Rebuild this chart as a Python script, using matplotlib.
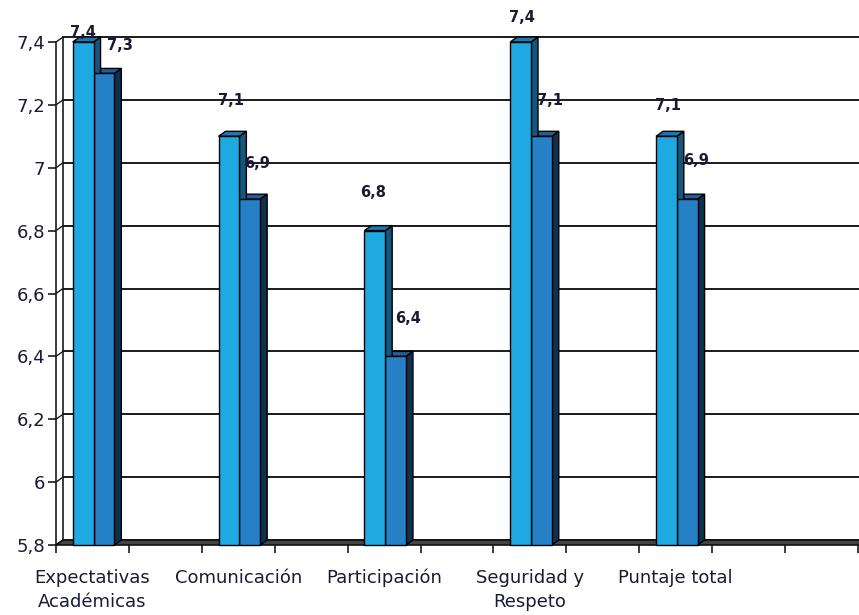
import numpy as np
import matplotlib
matplotlib.use('Agg')
import matplotlib.pyplot as plt
from matplotlib.patches import Polygon

# data
categories = ['Expectativas\nAcadémicas', 'Comunicación', 'Participación', 'Seguridad y\nRespeto', 'Puntaje total']
slots = [0, 2, 4, 6, 8]          # category slot on the 11-slot axis
serie_1 = [7.4, 7.1, 6.8, 7.4, 7.1]
serie_2 = [7.3, 6.9, 6.4, 7.1, 6.9]
y_ticks = [5.8, 6.0, 6.2, 6.4, 6.6, 6.8, 7.0, 7.2, 7.4]
y_tick_labels = ['5,8', '6', '6,2', '6,4', '6,6', '6,8', '7', '7,2', '7,4']

# label offsets in pixels (dx, dy) relative to the bar front top centre
offsets_1 = [(0, 10), (2, 36), (-2, 38), (1, 25), (2, 31)]
offsets_2 = [(16, 28), (7, 36), (12, 38), (9, 36), (9, 39)]

W, H, DPI = 859, 615, 100
N_SLOTS = 11
YMIN, YMAX = 5.8, 7.4
DEPTH_X, DEPTH_Y = 7, 5  # pixel depth of the 3d effect

FRONT_1, TOP_1, SIDE_1 = '#1ea9e0', '#1b78b0', '#17557f'
FRONT_2, TOP_2, SIDE_2 = '#2580c6', '#1d5f96', '#0e324e'
TEXT = '#1a1a33'

fig = plt.figure(figsize=(W / DPI, H / DPI), dpi=DPI)
left, right, bottom, top = 56, 858, 545, 42
ax = fig.add_axes([left / W, (H - bottom) / H, (right - left) / W, (bottom - top) / H])
ax.set_xlim(0, N_SLOTS)
ax.set_ylim(YMIN, YMAX)
for s in ax.spines.values():
  s.set_visible(False)

px_x = (right - left) / N_SLOTS
px_y = (bottom - top) / (YMAX - YMIN)
dx = DEPTH_X / px_x
dy = DEPTH_Y / px_y

# back wall gridlines and left wall
for y in y_ticks:
  ax.plot([0 + dx, N_SLOTS + dx], [y + dy, y + dy], color='#1a1a1a', lw=1.4, clip_on=False, zorder=1)
  ax.plot([0, dx], [y, y + dy], color='#1a1a1a', lw=1.0, clip_on=False, zorder=1)
ax.plot([0, 0], [YMIN, YMAX], color='#1a1a1a', lw=1.2, clip_on=False, zorder=1)
ax.plot([dx, dx], [YMIN + dy, YMAX + dy], color='#1a1a1a', lw=1.2, clip_on=False, zorder=1)

# floor
floor = Polygon([(0, YMIN), (N_SLOTS, YMIN), (N_SLOTS + dx, YMIN + dy), (dx, YMIN + dy)],
                closed=True, facecolor='#444444', edgecolor='#111111', lw=1.2, clip_on=False, zorder=2)
ax.add_patch(floor)

BAR_START = 0.23
BAR_W = 0.285

def draw_bar(x0, v, front, topc, side):
  x1 = x0 + BAR_W
  ax.add_patch(Polygon([(x1, YMIN), (x1, v), (x1 + dx, v + dy), (x1 + dx, YMIN + dy)],
                       closed=True, facecolor=side, edgecolor='black', lw=1.0, zorder=3, clip_on=False))
  ax.add_patch(Polygon([(x0, v), (x1, v), (x1 + dx, v + dy), (x0 + dx, v + dy)],
                       closed=True, facecolor=topc, edgecolor='black', lw=1.0, zorder=3, clip_on=False))
  ax.add_patch(Polygon([(x0, YMIN), (x1, YMIN), (x1, v), (x0, v)],
                       closed=True, facecolor=front, edgecolor='black', lw=1.0, zorder=4, clip_on=False))

for i, s in enumerate(slots):
  x_a = s + BAR_START
  x_b = x_a + BAR_W
  draw_bar(x_b, serie_2[i], FRONT_2, TOP_2, SIDE_2)
  draw_bar(x_a, serie_1[i], FRONT_1, TOP_1, SIDE_1)
  for x0, v, off in ((x_a, serie_1[i], offsets_1[i]), (x_b, serie_2[i], offsets_2[i])):
    ax.annotate(f'{v:.1f}'.replace('.', ','), xy=(x0 + BAR_W / 2, v),
                xytext=(off[0] * 72 / DPI, off[1] * 72 / DPI), textcoords='offset points',
                ha='center', va='center', fontsize=10.5, fontweight='bold', color=TEXT,
                annotation_clip=False, zorder=6)

# ticks
ax.set_yticks(y_ticks)
ax.set_yticklabels(y_tick_labels)
ax.tick_params(axis='y', length=6, width=1.2, color='#1a1a1a', labelsize=13, labelcolor=TEXT, pad=2)
ax.set_xticks(np.arange(0, N_SLOTS + 1))
ax.set_xticklabels([])
ax.set_xticks([s + 0.5 for s in slots], minor=True)
ax.set_xticklabels(categories, minor=True)
ax.tick_params(axis='x', which='major', length=6, width=1.2, color='#1a1a1a')
for lbl in ax.get_xticklabels(minor=True):
  lbl.set_linespacing(1.45)
  lbl.set_verticalalignment('top')
ax.tick_params(axis='x', which='minor', length=0, labelsize=13, labelcolor=TEXT, pad=17)

fig.savefig('out.png', dpi=DPI)
